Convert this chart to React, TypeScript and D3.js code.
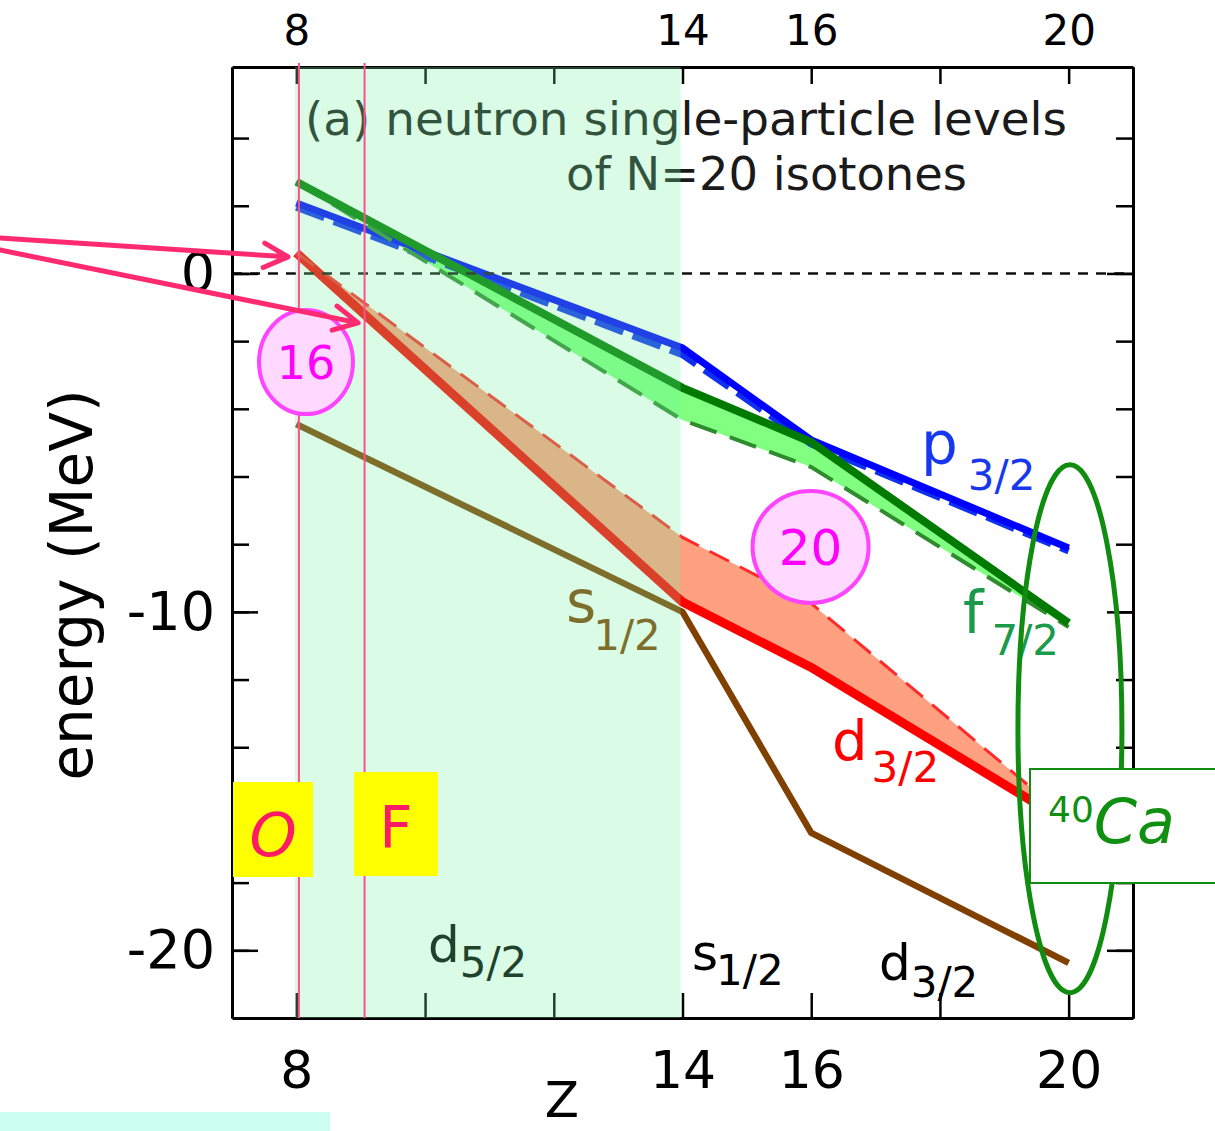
import { useEffect, useRef } from "react";
import * as d3 from "d3";

const WIDTH = 1215;
const HEIGHT = 1131;
const PLOT = { left: 232, right: 1133, top: 67, bottom: 1018 };

// Z of the N=20 isotones (O ... Ca)
const Z_VALUES = [8, 14, 16, 20];

// neutron single-particle energies (MeV), solid = one calc, dashed = other
const P32_SOLID = [2.08, -2.2, -4.92, -8.11];
const P32_DASHED = [1.96, -2.4, -5.04, -8.2];
const F72_SOLID = [2.71, -3.38, -4.98, -10.33];
const F72_DASHED = [2.71, -4.33, -5.72, -10.45];
const D32_SOLID = [0.61, -9.71, -11.64, -16.25];
const D32_DASHED = [0.61, -7.8, -9.75, -16.12];
const S12_SOLID = [-4.45, -10.0, -16.53, -20.37];

const X_DOMAIN = [7, 21];
const Y_DOMAIN = [-22, 6.1];
const X_TICKS = [8, 10, 12, 14, 16, 18, 20];
const X_LABELS = [8, 14, 16, 20];
const Y_TICKS = [-20, -18, -16, -14, -12, -10, -8, -6, -4, -2, 0, 2, 4];
const Y_LABELS = [-20, -10, 0];

// sd-shell filling region and the O / F marker lines
const SHADE_RANGE = [7.98, 13.97];
const MARKER_Z = [8.04, 9.06];

const FONT = "'DejaVu Sans', sans-serif";

export default function App() {
  const axesRef = useRef<SVGGElement>(null);

  const x = d3.scaleLinear().domain(X_DOMAIN).range([PLOT.left, PLOT.right]);
  const y = d3.scaleLinear().domain(Y_DOMAIN).range([PLOT.bottom, PLOT.top]);

  const line = d3
    .line<number>()
    .x((_, i) => x(Z_VALUES[i]))
    .y((d) => y(d));

  const band = (upper: number[], lower: number[]) =>
    d3
      .area<number>()
      .x((_, i) => x(Z_VALUES[i]))
      .y0((_, i) => y(lower[i]))
      .y1((d) => y(d))(upper) ?? "";

  // axes drawn with d3, inward ticks on all four sides
  useEffect(() => {
    const g = d3.select(axesRef.current);
    g.selectAll("*").remove();

    const put = (axis: d3.Axis<d3.NumberValue>, tx: number, ty: number) => {
      const sel = g.append("g").attr("transform", `translate(${tx},${ty})`).call(axis);
      sel.select(".domain").attr("stroke", "#000").attr("stroke-width", 3);
      sel.selectAll(".tick line").attr("stroke", "#000").attr("stroke-width", 2.5);
      sel.selectAll("text").attr("font-family", FONT).attr("font-size", 54).attr("fill", "#000");
      return sel;
    };
    const label = (d: d3.NumberValue) => (X_LABELS.includes(+d) ? String(d) : "");

    put(d3.axisLeft(y).tickValues(Y_TICKS).tickSize(-17).tickSizeOuter(0).tickFormat(() => ""), PLOT.left, 0);
    put(d3.axisLeft(y).tickValues(Y_LABELS).tickSize(-26).tickSizeOuter(0).tickPadding(17).tickFormat((d) => String(d)), PLOT.left, 0);
    put(d3.axisRight(y).tickValues(Y_TICKS).tickSize(-17).tickSizeOuter(0).tickFormat(() => ""), PLOT.right, 0);
    put(d3.axisRight(y).tickValues(Y_LABELS).tickSize(-26).tickSizeOuter(0).tickFormat(() => ""), PLOT.right, 0);
    const bottom = put(d3.axisBottom(x).tickValues(X_TICKS).tickSize(-25).tickSizeOuter(0).tickPadding(33).tickFormat(label), 0, PLOT.bottom);
    bottom.selectAll("text").attr("font-size", 52);
    const top = put(d3.axisTop(x).tickValues(X_TICKS).tickSize(-17).tickSizeOuter(0).tickPadding(22).tickFormat(label), 0, PLOT.top);
    top.selectAll("text").attr("font-size", 42);
  }, [x, y]);

  const arrow = (x0: number, y0: number, x1: number, y1: number) => {
    const a = Math.atan2(y1 - y0, x1 - x0);
    const len = 27;
    const spread = (27 * Math.PI) / 180;
    const p1 = [x1 - len * Math.cos(a - spread), y1 - len * Math.sin(a - spread)];
    const p2 = [x1 - len * Math.cos(a + spread), y1 - len * Math.sin(a + spread)];
    return `M${x0},${y0}L${x1},${y1}M${p1[0]},${p1[1]}L${x1},${y1}L${p2[0]},${p2[1]}`;
  };

  const sub = (
    main: string,
    subText: string,
    px: number,
    py: number,
    color: string,
    mainSize: number,
    subSize: number,
    subDx: number,
    subDy: number
  ) => (
    <text x={px} y={py} fill={color} fontFamily={FONT} fontSize={mainSize}>
      {main}
      <tspan dx={subDx} dy={subDy} fontSize={subSize}>
        {subText}
      </tspan>
    </text>
  );

  return (
    <svg
      width={WIDTH}
      height={HEIGHT}
      style={{ position: "absolute", left: 0, top: 0, background: "#fff" }}
    >
      <rect width={WIDTH} height={HEIGHT} fill="#fff" />

      {/* bands between the two calculations */}
      <path d={band(F72_SOLID, F72_DASHED)} fill="#80ff80" />
      <path d={band(D32_DASHED, D32_SOLID)} fill="#ffa080" />

      {/* levels */}
      <path d={line(S12_SOLID) ?? ""} fill="none" stroke="#804000" strokeWidth={6.5} />
      <path d={line(D32_SOLID) ?? ""} fill="none" stroke="#ff0000" strokeWidth={9} />
      <path d={line(D32_DASHED) ?? ""} fill="none" stroke="#ff2a2a" strokeWidth={3} strokeDasharray="22,12" />
      <path d={line(P32_DASHED) ?? ""} fill="none" stroke="#1030f0" strokeWidth={7} strokeDasharray="30,10" />
      <path d={line(P32_SOLID) ?? ""} fill="none" stroke="#0000ff" strokeWidth={7} />
      <path d={line(F72_DASHED) ?? ""} fill="none" stroke="#2e8b2e" strokeWidth={4} strokeDasharray="28,14" />
      <path d={line(F72_SOLID) ?? ""} fill="none" stroke="#007a00" strokeWidth={8} />

      {/* zero line */}
      <line x1={PLOT.left} x2={PLOT.right} y1={y(0)} y2={y(0)} stroke="#111" strokeWidth={2.5} strokeDasharray="10,8" />

      <g ref={axesRef} />

      {/* title */}
      <text x={305} y={135} fontFamily={FONT} fontSize={46} fill="#1a1a1a" textLength={762} lengthAdjust="spacingAndGlyphs">
        (a) neutron single-particle levels
      </text>
      <text x={566} y={190} fontFamily={FONT} fontSize={46} fill="#1a1a1a" textLength={401} lengthAdjust="spacingAndGlyphs">
        of N=20 isotones
      </text>

      {/* level labels */}
      {sub("p", "3/2", 921, 464, "#1838f0", 58, 42, 10, 26)}
      {sub("f", "7/2", 963, 633, "#1a9a4a", 58, 42, 8, 22)}
      {sub("d", "3/2", 832, 760, "#ff0000", 56, 42, 4, 22)}
      {sub("s", "1/2", 566, 622, "#804000", 58, 42, -3, 28)}
      {sub("d", "5/2", 428, 962, "#000", 50, 42, 0, 15)}
      {sub("s", "1/2", 692, 970, "#000", 50, 42, -2, 15)}
      {sub("d", "3/2", 879, 980, "#000", 50, 42, 0, 17)}

      {/* axis titles */}
      <text
        transform={`translate(92,${585}) rotate(-90)`}
        textAnchor="middle"
        fontFamily={FONT}
        fontSize={58}
        fill="#000"
      >
        energy (MeV)
      </text>
      <text x={562} y={1117} textAnchor="middle" fontFamily={FONT} fontSize={50} fill="#000">
        Z
      </text>

      {/* shaded d5/2 filling region, translucent over everything beneath */}
      <rect
        x={x(SHADE_RANGE[0])}
        y={PLOT.top}
        width={x(SHADE_RANGE[1]) - x(SHADE_RANGE[0])}
        height={PLOT.bottom - PLOT.top}
        fill="rgb(118,240,160)"
        fillOpacity={0.27}
      />

      {/* O and F marker lines */}
      {MARKER_Z.map((z) => (
        <line key={z} x1={x(z)} x2={x(z)} y1={63} y2={PLOT.bottom} stroke="#ff4f8f" strokeWidth={2} />
      ))}

      {/* magic number bubbles */}
      <ellipse cx={x(8.15)} cy={y(-2.62)} rx={47} ry={52} fill="#ffd9ff" stroke="#ff44ff" strokeWidth={4} />
      <text x={x(8.15)} y={y(-2.62) + 17} textAnchor="middle" fontFamily={FONT} fontSize={46} fill="#ff00ff">
        16
      </text>
      <ellipse cx={x(15.99)} cy={y(-8.08)} rx={58} ry={56} fill="#ffd9ff" stroke="#ff44ff" strokeWidth={4} />
      <text x={x(15.99)} y={y(-8.08) + 18} textAnchor="middle" fontFamily={FONT} fontSize={50} fill="#ff00ff">
        20
      </text>

      {/* arrows */}
      <path d={arrow(0, 238, x(7.87), y(0.49))} fill="none" stroke="#ff2a70" strokeWidth={5} strokeLinecap="round" strokeLinejoin="round" />
      <path d={arrow(0, 250, x(8.96), y(-1.46))} fill="none" stroke="#ff2a70" strokeWidth={5} strokeLinecap="round" strokeLinejoin="round" />

      {/* element boxes */}
      <rect x={233} y={782} width={80} height={95} fill="#ffff00" />
      <text x={273} y={856} textAnchor="middle" fontFamily={FONT} fontSize={60} fontStyle="italic" fill="#ff1a66">
        O
      </text>
      <rect x={354} y={772} width={84} height={104} fill="#ffff00" />
      <text x={396} y={848} textAnchor="middle" fontFamily={FONT} fontSize={58} fill="#ff1a66">
        F
      </text>

      {/* 40Ca */}
      <ellipse cx={x(20.02)} cy={y(-13.45)} rx={52} ry={264} fill="none" stroke="#108c10" strokeWidth={5} />
      <rect x={1030} y={769} width={200} height={114} fill="#fff" stroke="#108c10" strokeWidth={2} />
      <text x={1048} y={843} fontFamily={FONT} fill="#109010">
        <tspan fontSize={36} dy={-21}>40</tspan>
        <tspan fontSize={62} fontStyle="italic" dy={21}>Ca</tspan>
      </text>

      <rect x={0} y={1112} width={330} height={19} fill="#ccfff0" />
    </svg>
  );
}
